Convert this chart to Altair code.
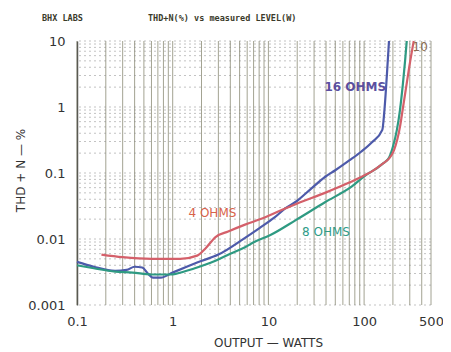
import altair as alt
import pandas as pd

# ---- data ----
w16 = [0.1, 0.15, 0.25, 0.33, 0.4, 0.48, 0.55, 0.62, 0.75, 1.0, 1.4, 1.8, 3, 5.7, 8, 11.5, 15, 19.5, 28, 39, 50, 70, 93, 120, 155, 162, 168, 175, 182]
t16 = [0.0045, 0.0038, 0.0033, 0.0034, 0.0038, 0.0037, 0.0030, 0.0026, 0.0026, 0.0031, 0.0038, 0.0044, 0.0058, 0.0104, 0.0145, 0.021, 0.029, 0.037, 0.058, 0.087, 0.11, 0.155, 0.21, 0.29, 0.45, 0.8, 1.6, 4, 10]

w8 = [0.1, 0.15, 0.25, 0.38, 0.6, 0.95, 1.4, 2.0, 2.8, 4, 5.7, 7.1, 10.5, 19.5, 39, 74, 110, 117, 158, 182, 200, 220, 237, 254, 268, 279]
t8 = [0.0040, 0.0036, 0.0032, 0.0031, 0.0029, 0.0029, 0.0033, 0.0039, 0.0047, 0.006, 0.0075, 0.009, 0.0115, 0.0195, 0.036, 0.062, 0.098, 0.103, 0.14, 0.17, 0.25, 0.45, 0.9, 2.2, 5, 10]

w4 = [0.18, 0.3, 0.6, 1.2, 1.8, 2.2, 2.8, 3.8, 5.7, 9, 15, 19.5, 39, 69, 110, 117, 158, 182, 205, 237, 254, 275, 296, 330]
t4 = [0.0058, 0.0053, 0.005, 0.005, 0.0056, 0.0072, 0.0107, 0.013, 0.0165, 0.021, 0.029, 0.034, 0.05, 0.071, 0.098, 0.103, 0.14, 0.165, 0.22, 0.5, 0.95, 2, 4, 10]

series_names = ["16 OHMS", "8 OHMS", "4 OHMS"]
series_colors = ["#4d5aaa", "#2e9a82", "#d4606a"]

x_ticks = [0.1, 1, 10, 100, 500]
y_ticks = [0.001, 0.01, 0.1, 1, 10]

v_grid = [m * d for d in [0.1, 1, 10, 100] for m in range(1, 10) if m * d <= 500]
h_grid = [m * d for d in [0.001, 0.01, 0.1, 1] for m in range(1, 10)] + [10]

label_text = ["16 OHMS", "4 OHMS", "8 OHMS", "10"]
label_w = [81, 2.6, 40, 385]
label_t = [2.0, 0.0246, 0.0129, 8.1]
label_color = ["#5b4fa0", "#d8624a", "#2f9b87", "#8a6a50"]
label_bold = [True, False, False, False]

# ---- tables ----
rows = []
for name, ws, ts in zip(series_names, [w16, w8, w4], [t16, t8, t4]):
    for i, (a, b) in enumerate(zip(ws, ts)):
        rows.append({"series": name, "watts": a, "thd": b, "order": i})
df = pd.DataFrame(rows)
vg = pd.DataFrame({"gx": v_grid})
hg = pd.DataFrame({"gy": h_grid})
lab = pd.DataFrame({"text": label_text, "watts": label_w, "thd": label_t,
                    "color": label_color, "bold": label_bold})

xscale = alt.Scale(type="log", domain=[0.1, 500], nice=False)
yscale = alt.Scale(type="log", domain=[0.001, 10], nice=False)

FONT = "DejaVu Sans"
xaxis = alt.Axis(values=x_ticks, format="~g", grid=False, domain=False, ticks=False, tickSize=0,
                 labelFlush=False, labelPadding=10, labelFontSize=13, labelFont=FONT, labelColor="#333",
                 title="OUTPUT — WATTS", titleFont=FONT, titleFontSize=12, titleFontWeight="normal",
                 titleColor="#333", titleX=191, titleY=37, titleAlign="center", titleBaseline="middle")
yaxis = alt.Axis(values=y_ticks, format="~g", grid=False, domain=True, domainColor="#555", domainWidth=1.5,
                 ticks=False, tickSize=0, labelFlush=False, labelPadding=12, labelFontSize=13, labelFont=FONT,
                 labelColor="#333", title="THD + N — %", titleFont=FONT, titleFontSize=12,
                 titleFontWeight="normal", titleColor="#333", titleAngle=270, titleX=-57, titleY=129,
                 titleAlign="center", titleBaseline="middle")

vrules = alt.Chart(vg).mark_rule(color="#66664a", strokeWidth=1, opacity=0.6).encode(
    x=alt.X("gx:Q", scale=xscale, axis=xaxis))
hrules = alt.Chart(hg).mark_rule(color="#888", strokeWidth=1, opacity=0.5, strokeDash=[2, 3]).encode(
    y=alt.Y("gy:Q", scale=yscale, axis=yaxis))

lines = alt.Chart(df).mark_line(strokeWidth=2.2, interpolate="monotone").encode(
    x=alt.X("watts:Q", scale=xscale, axis=xaxis),
    y=alt.Y("thd:Q", scale=yscale, axis=yaxis),
    color=alt.Color("series:N", scale=alt.Scale(domain=series_names, range=series_colors), legend=None),
    detail="series:N",
    order="order:Q",
)

def text_layer(bold):
    return alt.Chart(lab).transform_filter(
        alt.datum.bold if bold else ~alt.datum.bold
    ).mark_text(font=FONT, fontSize=12, align="center", baseline="middle",
                fontWeight="bold" if bold else "normal").encode(
        x=alt.X("watts:Q", scale=xscale, axis=xaxis),
        y=alt.Y("thd:Q", scale=yscale, axis=yaxis),
        text="text:N",
        color=alt.Color("color:N", scale=None),
    )

head1 = alt.Chart(pd.DataFrame({"t": ["BHX LABS"]})).mark_text(
    font="DejaVu Sans Mono", fontSize=8.5, fontWeight="bold", color="#3a3a2a", align="left", baseline="middle"
).encode(x=alt.value(-35), y=alt.value(-23), text="t:N")
head2 = alt.Chart(pd.DataFrame({"t": ["THD+N(%) vs measured LEVEL(W)"]})).mark_text(
    font="DejaVu Sans Mono", fontSize=8.5, fontWeight="bold", color="#3a3a2a", align="left", baseline="middle"
).encode(x=alt.value(71), y=alt.value(-23), text="t:N")

chart = alt.layer(vrules, hrules, lines, text_layer(True), text_layer(False), head1, head2).properties(
    width=354, height=264,
    autosize=alt.AutoSizeParams(type="none"),
    padding={"left": 69, "top": 33, "right": 12, "bottom": 45},
    background="white",
).configure_view(stroke=None)

chart.save("out.html", embed_options={"renderer": "svg", "actions": False})
